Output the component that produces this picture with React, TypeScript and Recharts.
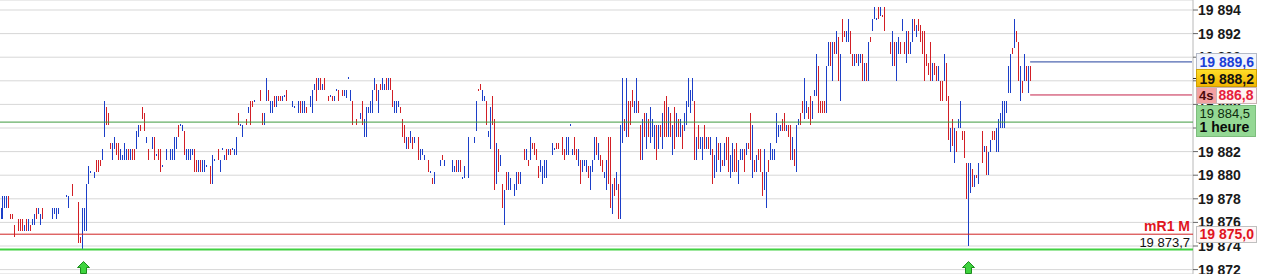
import React from 'react';
import { ComposedChart, Bar, XAxis, YAxis, CartesianGrid, ReferenceLine, ReferenceDot } from 'recharts';

// plus hauts de chaque barre (null = pas de barre sur ce pas de temps)
const highs: (number | null)[] = [
  19877.25, 19878.25, 19878.25, 19878.25, 19878.25, 19876.75, 19876.75, 19875.75, null, 19876.25,
  19876.25, 19876.25, 19875.75, 19876.25, 19876.25, 19875.75, 19876.25, 19876.75, 19877.25, 19877.25,
  19876.75, 19877.25, null, null, null, null, 19877.25, 19877.25, 19877.25, 19877.25,
  null, null, null, 19878.25, 19878.25, null, 19879.25, null, null, 19877.75,
  19874.75, 19877.25, 19877.25, 19879.25, 19880.75, 19880.25, null, 19880.25, 19881.25, 19881.25,
  19881.25, 19882.25, 19886.25, 19885.75, 19885.25, 19882.75, 19882.75, 19883.25, 19882.75, 19882.75,
  19882.25, 19881.75, 19882.75, 19882.25, 19882.25, 19882.25, 19882.25, 19882.25, 19883.75, 19884.25,
  19884.25, 19885.75, 19885.25, 19883.25, 19882.25, null, 19883.25, 19883.25, 19881.75, 19882.25,
  19882.25, 19880.75, null, 19882.25, null, 19882.25, 19882.25, 19883.25, 19883.25, 19884.25,
  19884.25, 19884.25, 19883.75, 19882.25, 19882.25, 19882.25, 19882.25, 19882.25, 19881.25, 19881.25,
  19881.25, 19881.25, 19881.25, 19880.75, null, 19880.75, 19881.75, 19881.25, null, 19882.25,
  19881.25, 19882.25, 19881.75, 19882.25, 19882.25, 19882.25, 19882.25, 19882.25, 19883.25, 19885.25,
  19884.25, 19884.25, null, 19884.75, 19885.75, 19886.25, 19886.25, 19886.25, null, null,
  19887.25, 19885.25, 19885.25, 19888.25, 19887.25, 19886.25, 19886.25, 19886.75, 19886.75, 19886.75,
  19886.75, 19886.75, 19886.75, 19887.25, null, null, 19886.25, 19885.75, null, 19886.25,
  19886.25, 19886.25, 19886.25, 19885.75, null, 19886.75, 19887.25, 19887.75, 19888.25, 19888.25,
  19888.25, 19887.75, 19888.25, null, 19886.75, 19886.75, 19886.75, 19886.75, 19887.25, 19887.25,
  null, 19887.25, 19887.25, 19887.25, 19888.25, 19887.25, 19886.25, null, 19884.75, null,
  19885.25, 19886.25, 19884.75, 19885.75, 19885.75, 19886.25, 19887.25, 19888.25, 19887.75, 19887.25,
  19887.75, 19888.25, 19887.75, 19888.25, 19888.25, 19888.25, 19887.25, 19886.25, 19886.25, 19886.25,
  19885.75, 19884.75, 19884.25, 19883.25, 19883.25, 19883.75, 19883.25, 19883.25, null, 19883.25,
  19882.25, 19882.25, 19881.75, null, 19881.25, 19880.25, 19879.75, 19880.25, null, null,
  19881.25, 19881.75, 19881.25, null, null, null, 19881.25, 19880.75, 19881.25, 19881.25,
  19881.25, 19879.75, 19880.75, null, 19883.25, null, null, 19883.25, 19886.25, 19887.25,
  19887.75, 19887.25, 19886.75, 19886.25, 19883.75, 19885.75, 19886.75, 19884.75, 19882.75, 19882.25,
  19881.75, 19879.25, 19878.75, 19880.25, 19880.25, 19879.75, null, 19879.25, 19880.25, 19880.25,
  19880.25, null, 19882.25, 19882.25, 19881.25, 19883.25, 19882.75, 19882.75, 19882.25, 19880.75,
  19881.25, 19880.75, 19881.25, 19881.25, null, null, 19882.75, 19882.25, 19882.75, 19882.75,
  null, 19883.25, 19882.25, 19883.25, 19883.25, 19884.25, 19882.25, 19883.25, 19882.25, 19882.25,
  19881.25, 19881.25, 19881.25, 19881.25, 19880.75, 19880.75, 19881.25, 19883.25, 19883.25, 19882.75,
  19881.75, 19881.25, 19880.25, 19881.25, 19883.25, 19883.25, 19879.25, 19879.75, 19880.25, 19879.25,
  19884.25, 19888.25, 19884.75, 19888.25, 19886.25, 19886.25, 19887.25, 19886.25, 19888.25, 19886.25,
  19884.25, 19884.75, 19885.25, 19885.25, 19884.75, 19885.75, 19884.75, 19884.25, 19884.25, 19884.25,
  19884.25, 19885.25, 19886.25, 19886.75, 19885.75, 19885.25, 19884.25, 19885.75, 19885.25, 19884.75,
  19884.75, 19884.25, 19885.25, 19886.25, 19888.25, 19887.25, 19888.25, 19886.25, 19883.25, 19884.25,
  19883.25, 19883.25, 19884.25, 19883.25, 19883.25, 19883.25, 19882.25, 19881.75, 19883.25, 19882.75,
  19882.75, 19881.25, 19882.75, 19883.25, 19883.25, 19881.75, 19882.75, 19882.25, 19882.75, 19881.25,
  19882.25, 19882.25, 19882.25, 19882.75, 19882.75, 19885.25, 19884.25, 19881.25, 19881.75, 19882.25,
  19882.25, 19880.25, 19882.25, 19880.25, 19881.25, 19882.75, 19882.25, 19882.25, 19885.25, 19884.25,
  19884.25, 19884.75, 19885.25, 19884.25, 19884.25, 19884.25, 19883.25, 19882.25, 19884.25, 19884.75,
  19885.25, 19886.25, 19888.25, 19886.25, 19885.75, 19886.75, 19886.25, 19887.25, 19890.25, 19889.25,
  19886.25, 19886.25, 19886.25, 19889.25, 19891.25, 19891.25, 19891.25, 19891.25, 19892.25, 19891.75,
  19890.25, 19893.25, 19892.25, 19892.25, 19893.25, 19892.25, 19890.25, 19890.25, 19890.25, 19890.25,
  19890.25, 19890.25, 19889.5, 19889.5, 19891.25, 19891.75, 19893.25, 19894.25, 19893.25, 19894.25,
  19894.25, 19893.5, 19894.25, null, null, 19891.25, 19892.25, 19891.25, 19891.25, 19891.75,
  19891.25, 19893.25, 19891.25, 19892.25, 19892.25, 19891.25, 19893.25, 19893.25, 19892.75, 19893.25,
  19892.75, 19892.25, 19892.25, 19890.25, 19889.5, 19891.25, 19889.5, 19889.5, 19889.25, 19889.25,
  19888, 19888, 19890.25, 19889.5, 19886.75, 19884, 19884.75, 19884, 19883.75, 19884.75,
  19886.25, 19883.75, 19883.75, 19881, 19881, 19881, 19880.5, 19880, 19880, 19881,
  null, 19883.75, 19882.5, 19882.5, 19882, 19883, 19883.75, 19883.75, 19884, 19884.75,
  19885.25, 19886.25, 19886.25, 19886.25, 19889.25, 19890.25, 19890.75, 19893.25, 19892.25, 19891.25,
  19889.25, 19888, 19890.25, 19889.25, 19889.25, 19889.25,
];

// plus bas de chaque barre
const lows: (number | null)[] = [
  19876.25, 19876.25, 19877.25, 19877.25, 19877.25, 19876.25, 19876.25, 19874.75, null, 19875.25,
  19875.25, 19875.25, 19875.25, 19875.25, 19875.25, 19875.25, 19875.75, 19875.75, 19876.25, 19876.75,
  19875.75, 19876.25, null, null, null, null, 19876.25, 19876.75, 19876.25, 19876.75,
  null, null, null, 19878.25, 19877.25, null, 19878.25, null, null, 19874.25,
  19874.25, 19873.75, 19875.25, 19875.25, 19879.25, 19880.25, null, 19879.75, 19880.25, 19880.25,
  19880.75, 19881.25, 19883.25, 19884.25, 19884.25, 19882.25, 19881.25, 19882.25, 19881.75, 19881.25,
  19881.25, 19881.25, 19881.25, 19881.25, 19881.25, 19881.25, 19881.25, 19881.25, 19882.25, 19883.25,
  19883.75, 19884.75, 19883.75, 19882.75, 19881.25, null, 19882.25, 19881.25, 19881.75, 19881.25,
  19880.25, 19880.75, null, 19881.25, null, 19881.25, 19881.25, 19881.25, 19882.25, 19883.25,
  19884.25, 19883.75, 19881.75, 19881.25, 19881.25, 19881.25, 19881.75, 19880.25, 19880.25, 19880.25,
  19880.25, 19880.25, 19880.25, 19880.75, null, 19879.25, 19879.25, 19881.25, null, 19881.25,
  19880.25, 19882.25, 19881.25, 19881.25, 19881.75, 19881.75, 19882.25, 19881.75, 19881.75, 19884.25,
  19884.25, 19883.25, null, 19884.25, 19885.25, 19884.25, 19885.75, 19886.25, null, null,
  19886.25, 19884.25, 19884.25, 19886.25, 19886.25, 19885.25, 19885.25, 19885.75, 19885.75, 19886.25,
  19886.25, 19886.25, 19886.75, 19886.25, null, null, 19885.75, 19885.75, null, 19885.25,
  19885.25, 19885.25, 19885.25, 19885.25, null, 19885.75, 19885.25, 19887.25, 19886.25, 19887.25,
  19887.25, 19887.25, 19887.25, null, 19886.25, 19886.75, 19886.25, 19886.25, 19887.25, 19886.25,
  null, 19886.75, 19886.75, 19886.5, 19888.25, 19886.25, 19884.25, null, 19884.25, null,
  19884.75, 19884.25, 19883.25, 19883.25, 19885.25, 19885.25, 19885.25, 19887.25, 19886.25, 19885.25,
  19887.25, 19887.25, 19887.25, 19887.25, 19887.25, 19887.25, 19885.75, 19885.25, 19885.25, 19885.75,
  19885.25, 19883.25, 19882.75, 19882.25, 19882.25, 19882.75, 19882.25, 19882.75, null, 19881.25,
  19881.25, 19881.75, 19881.25, null, 19880.25, 19880.25, 19879.25, 19879.25, null, null,
  19880.75, 19881.25, 19880.75, null, null, null, 19880.25, 19880.25, 19880.25, 19880.25,
  19880.25, 19879.75, 19879.75, null, 19879.75, null, null, 19882.75, 19883.75, 19887.25,
  19887.25, 19886.25, 19886.25, 19884.25, 19883.25, 19882.25, 19884.25, 19878.75, 19879.25, 19880.25,
  19880.75, 19877.25, 19875.75, 19878.75, 19878.75, 19878.75, null, 19878.25, 19878.75, 19879.25,
  19879.25, null, 19881.25, 19881.25, 19880.75, 19881.25, 19882.25, 19881.75, 19881.25, 19879.75,
  19880.25, 19879.25, 19879.75, 19879.75, null, null, 19881.75, 19882.25, 19882.25, 19882.25,
  null, 19881.75, 19881.25, 19881.75, 19881.75, 19884.25, 19881.75, 19881.75, 19881.25, 19880.75,
  19879.25, 19880.25, 19880.75, 19880.25, 19879.75, 19878.75, 19880.25, 19881.25, 19881.75, 19881.25,
  19880.75, 19880.25, 19879.75, 19878.75, 19879.25, 19877.25, 19876.75, 19878.25, 19878.75, 19876.25,
  19876.25, 19882.75, 19883.75, 19883.25, 19883.25, 19884.25, 19885.75, 19885.25, 19885.25, 19885.25,
  19881.25, 19881.25, 19883.25, 19882.25, 19883.25, 19882.75, 19883.25, 19882.25, 19881.25, 19882.25,
  19883.25, 19882.25, 19883.25, 19883.25, 19883.25, 19883.25, 19881.75, 19882.25, 19883.25, 19883.25,
  19883.25, 19882.25, 19883.75, 19884.25, 19885.75, 19885.25, 19886.25, 19881.25, 19881.25, 19882.25,
  19882.25, 19881.25, 19882.25, 19882.25, 19882.25, 19881.75, 19879.25, 19879.75, 19880.25, 19881.25,
  19880.25, 19880.75, 19880.75, 19881.25, 19880.25, 19879.75, 19880.25, 19880.25, 19880.25, 19879.25,
  19881.25, 19881.25, 19880.25, 19881.75, 19882.25, 19881.25, 19879.75, 19880.25, 19880.25, 19881.25,
  19880.25, 19878.25, 19878.75, 19877.25, 19880.25, 19881.25, 19881.25, 19881.25, 19882.75, 19883.25,
  19883.75, 19883.75, 19883.75, 19883.75, 19883.25, 19881.25, 19881.25, 19880.75, 19880.25, 19884.25,
  19884.25, 19885.25, 19884.75, 19885.25, 19884.75, 19884.25, 19884.75, 19886.75, 19886.75, 19885.25,
  19885.25, 19885.25, 19885.25, 19885.25, 19889.25, 19889.25, 19888, 19890.25, 19890.25, 19888,
  19886.25, 19891.25, 19891.75, 19891.25, 19891.25, 19890.25, 19889.25, 19889.25, 19889.5, 19889.25,
  19889.5, 19888, 19888, 19888, 19888, 19891.25, 19892.25, 19893.25, 19893.25, 19893.25,
  19893.5, 19893.5, 19892.25, null, null, 19890.25, 19889.25, 19889.25, 19888, 19890.25,
  19890.25, 19892.25, 19890.25, 19889.5, 19890.25, 19890.25, 19891.25, 19892.25, 19891.75, 19892.25,
  19891.25, 19890.25, 19888, 19889.25, 19888.5, 19888, 19888, 19888.5, 19888, 19888,
  19886.25, 19886.25, 19888, 19886.25, 19883, 19882, 19882.5, 19881, 19882, 19884,
  19884, 19883, 19881.5, 19878, 19874, 19878.5, 19879, 19879, 19879.75, 19879.25,
  null, 19881, 19882, 19880, 19880, 19882, 19883, 19883, 19882, 19882,
  19884, 19884, 19884, 19885.25, 19887, 19887, 19890.25, 19890.75, 19891.25, 19888,
  19886.25, 19887, 19888, 19888, 19887, 19888,
];

// B = barre haussière (bleue), R = baissière (rouge), - = vide
const sideRows = [
  'BBBBRRRR-R', 'RRBRBRBBRB', 'BR----BBBB', '---BB-R--R', 'RBBBBB-BRR',
  'RBBRRRBBRR', 'BBBBRBRRBB', 'RRRBR-BRBR', 'RB-B-BBBBR', 'BBRBBBBRRB',
  'RBBB-RBB-R', 'BBBRBRBBBR', 'BB-RBRRB--', 'RRBBRBBRBR', 'RBBR--BB-B',
  'RBBR-BBBRB', 'RBR-RBRBBR', '-RBBBBR-R-', 'BRBBBBBBRB', 'RBBRBRRBBB',
  'RRRBRBRB-R', 'BBB-RBRB--', 'BRB---BBRB', 'RBB-B--BBR', 'RBBRBBRRBR',
  'BRBRBB-BBR', 'B-RBRBRRRR', 'BBBB--BBRR', '-RRBBBBRRB', 'RBBBRBBBRB',
  'RRBBRRBRBR', 'BBRBRRRBBR', 'RBRBRBBBRB', 'RBRRBRBRBR', 'BRBBBBBRBR',
  'BBRBRBRBBR', 'BRBRRBBRRB', 'BBRBRRBRBR', 'RRBBRBBBBB', 'BRRBRRBRBB',
  'RRBBRRBBBR', 'RRRBBRBRBR', 'BRRBBRRBRB', 'BRBRBRBBBR', 'BRR--RBRBB',
  'RBRBRBBRBR', 'RRRRRRBRRB', 'RRBRRBRBRB', 'BRRRBBRBRB', '-RBRBBRRBB',
  'BBBBBBRBRR', 'BRBRBR',
];

const priceTicks = [19872, 19874, 19876, 19878, 19880, 19882, 19884, 19886, 19888, 19890, 19892, 19894];
const bidPrice = 19889.6;
const lastPrice = 19888.2;
const askPrice = 19886.8;
const hourPrice = 19884.5;
const mR1Price = 19875.0;
const lowPrice = 19873.7;
const signalBars = [41, 484];

const W = 1263;
const H = 274;
const AXIS_W = 70;
const PLOT_RIGHT = W - AXIS_W;
const SLOTS = 597; // empty slots after the last bar keep the right side free
const PX_PER_POINT = 11.8;
const Y_MAX = 19894 + 10 / PX_PER_POINT;
const Y_MIN = Y_MAX - H / PX_PER_POINT;
const TAG_Z = 2000;

const BLUE = '#1c3fc8';
const RED = '#d21f26';
const FONT = '"Liberation Sans", Arial, sans-serif';

const sides = sideRows.join('').split('');
const lastBar = highs.length - 1;

const data = Array.from({ length: SLOTS }, (_, i) => {
  const hi = highs[i];
  const lo = lows[i];
  return {
    i,
    range: hi != null && lo != null ? [lo, hi] : null,
    up: sides[i] === 'B',
  };
});

const fmt = (v: number, dec = 0) => {
  const [int, frac] = v.toFixed(dec).split('.');
  const spaced = int.replace(/\B(?=(\d{3})+(?!\d))/g, ' ');
  return frac ? `${spaced},${frac}` : spaced;
};

const BarTick = (props: any) => {
  const { x, y, width, height, payload } = props;
  if (!payload || !payload.range || !isFinite(x) || !isFinite(y) || !isFinite(height)) return null;
  const cx = Math.round(x + width / 2);
  const top = Math.min(y, y + height);
  const bottom = Math.max(y, y + height);
  let y0 = Math.round(top);
  let h = Math.round(bottom) - y0;
  if (h < 2) {
    y0 = Math.round((top + bottom) / 2) - 1;
    h = 2;
  }
  return <rect x={cx} y={y0} width={1} height={h} fill={payload.up ? BLUE : RED} />;
};

const BidTag = (props: any) => {
  const y = Math.round(props.viewBox.y);
  const x = PLOT_RIGHT + 3.5;
  return (
    <g>
      <rect x={x} y={y - 8.5} width={60} height={16} fill="#f3f5fb" stroke="#b4bac8" />
      <text x={x + 3} y={y + 5} fill="#1b3fd6" fontSize={14} fontWeight="bold" fontFamily={FONT}>
        {fmt(bidPrice, 1)}
      </text>
    </g>
  );
};

const LastTag = (props: any) => {
  const y = Math.round(props.viewBox.y);
  const x = PLOT_RIGHT + 3.5;
  return (
    <g>
      <defs>
        <linearGradient id="goldTag" x1="0" y1="0" x2="0" y2="1">
          <stop offset="0%" stopColor="#ffdf2a" />
          <stop offset="100%" stopColor="#f2b400" />
        </linearGradient>
      </defs>
      <line x1={PLOT_RIGHT} x2={x} y1={y + 0.5} y2={y + 0.5} stroke="#333" />
      <rect x={x} y={y - 8.5} width={60} height={17} fill="url(#goldTag)" stroke="#d0a000" />
      <text x={x + 3} y={y + 5.5} fill="#111" fontSize={14} fontWeight="bold" fontFamily={FONT}>
        {fmt(lastPrice, 1)}
      </text>
    </g>
  );
};

const AskTag = (props: any) => {
  const y = Math.round(props.viewBox.y);
  const x = PLOT_RIGHT + 3.5;
  return (
    <g>
      <rect x={x} y={y - 7.5} width={60} height={16} fill="#fff4f4" stroke="#c9b4b4" />
      <rect x={x} y={y - 7.5} width={20} height={16} fill="#f3a1a1" stroke="#c9b4b4" />
      <text x={x + 2.5} y={y + 5} fill="#4a0a0a" fontSize={13} fontWeight="bold" fontFamily={FONT}>
        4s
      </text>
      <text x={x + 22} y={y + 5} fill="#e6203c" fontSize={14} fontWeight="bold" fontFamily={FONT}>
        {fmt(askPrice, 1).slice(3)}
      </text>
    </g>
  );
};

const HourTag = (props: any) => {
  const y = Math.round(props.viewBox.y);
  const x = PLOT_RIGHT + 3.5;
  return (
    <g>
      <rect x={x} y={y - 16.5} width={59} height={31} fill="#94d894" stroke="#7dbd7d" />
      <text x={x + 3} y={y - 4} fill="#0d2a0d" fontSize={13} fontFamily={FONT}>
        {fmt(hourPrice, 1)}
      </text>
      <text x={x + 3} y={y + 10} fill="#0a0a0a" fontSize={14} fontWeight="bold" fontFamily={FONT}>
        1 heure
      </text>
    </g>
  );
};

const MR1Tag = (props: any) => {
  const y = Math.round(props.viewBox.y);
  const x = PLOT_RIGHT + 3.5;
  return (
    <g>
      <text x={PLOT_RIGHT - 3} y={y - 3} textAnchor="end" fill="#e0141e" fontSize={14} fontWeight="bold" fontFamily={FONT}>
        mR1 M
      </text>
      <rect x={x} y={y - 7.5} width={60} height={16} fill="#fff6f6" stroke="#c0c0c0" />
      <text x={x + 3} y={y + 5} fill="#e0141e" fontSize={14} fontWeight="bold" fontFamily={FONT}>
        {fmt(mR1Price, 1)}
      </text>
    </g>
  );
};

const LowTag = (props: any) => {
  const y = Math.round(props.viewBox.y);
  return (
    <text x={PLOT_RIGHT - 3} y={y - 3} textAnchor="end" fill="#111" fontSize={13} fontFamily={FONT}>
      {fmt(lowPrice, 1)}
    </text>
  );
};

const UpArrow = (props: any) => {
  const cx = Math.round(props.cx) + 0.5;
  const b = Math.round(props.cy) - 0.5;
  const d = `M${cx},${b - 12} L${cx + 6},${b - 6} L${cx + 3},${b - 6} L${cx + 3},${b} L${cx - 3},${b} L${cx - 3},${b - 6} L${cx - 6},${b - 6} Z`;
  return <path d={d} fill="#3fd43f" stroke="#1e8c1e" />;
};

export default function App() {
  return (
    <div style={{ position: 'absolute', left: 0, top: 0, width: W, height: H, background: '#fff' }}>
      <ComposedChart width={W} height={H} data={data} margin={{ top: 0, right: 0, bottom: 0, left: 0 }} barCategoryGap={0}>
        <CartesianGrid vertical={false} stroke="#d7d7d7" />
        <XAxis dataKey="i" type="category" hide />
        <YAxis
          orientation="right"
          type="number"
          domain={[Y_MIN, Y_MAX]}
          allowDataOverflow
          ticks={priceTicks}
          interval={0}
          width={AXIS_W}
          tickSize={5}
          tickMargin={0}
          axisLine={{ stroke: '#b8b8b8' }}
          tickLine={{ stroke: '#666' }}
          tick={{ fill: '#1a1a1a', fontSize: 14, fontWeight: 'bold', fontFamily: FONT }}
          tickFormatter={(v: number) => fmt(v)}
        />
        <Bar dataKey="range" isAnimationActive={false} barSize={1} shape={BarTick} />
        <ReferenceLine y={hourPrice} stroke="#3f9b3f" zIndex={TAG_Z} label={<HourTag />} />
        <ReferenceLine y={mR1Price} stroke="#d02222" zIndex={TAG_Z} label={<MR1Tag />} />
        <ReferenceLine y={lowPrice} stroke="#40d040" strokeWidth={2} zIndex={TAG_Z} label={<LowTag />} />
        <ReferenceLine
          segment={[{ x: lastBar, y: bidPrice }, { x: SLOTS - 1, y: bidPrice }]}
          stroke="#23409e"
          zIndex={TAG_Z}
          label={<BidTag />}
        />
        <ReferenceLine
          segment={[{ x: lastBar, y: askPrice }, { x: SLOTS - 1, y: askPrice }]}
          stroke="#c4224a"
          zIndex={TAG_Z}
          label={<AskTag />}
        />
        <ReferenceLine y={lastPrice} stroke="none" zIndex={TAG_Z} label={<LastTag />} />
        {signalBars.map((b) => (
          <ReferenceDot key={b} x={b} y={Y_MIN} ifOverflow="visible" shape={UpArrow} />
        ))}
      </ComposedChart>
    </div>
  );
}
